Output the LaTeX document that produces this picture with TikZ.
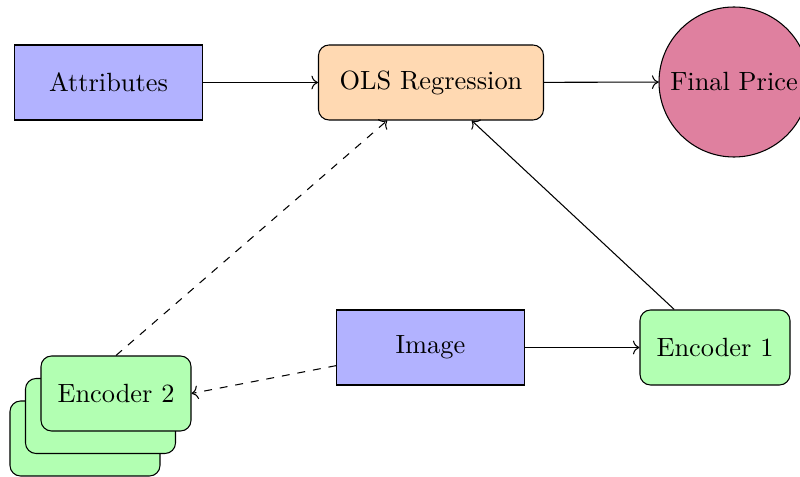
\documentclass[tikz,border=0pt]{standalone}
\usetikzlibrary{arrows.meta}
\begin{document}
\begin{tikzpicture}[x=0.37937pt,y=-0.37937pt,
  inbox/.style={draw,fill=blue!30,minimum width=2.5cm,minimum height=1cm},
  olsbox/.style={draw,fill=orange!30,rounded corners,minimum width=3cm,minimum height=1cm},
  encbox/.style={draw,fill=green!30,rounded corners,minimum width=2cm,minimum height=1cm},
  outcirc/.style={draw,circle,fill=purple!50,minimum size=2cm,inner sep=0pt},
  conn/.style={->},
  dconn/.style={->,dashed}]
\useasboundingbox (0,0) rectangle (800,477);
\node[inbox] (attr) at (108.5,82.5) {Attributes};
\node[olsbox] (ols) at (431,82.5) {OLS Regression};
\node[outcirc] (price) at (734,82) {Final Price};
\node[inbox] (img) at (430.5,347.5) {Image};
\node[encbox] (enc1) at (715,347.5) {Encoder 1};
\node[encbox] (enc2c) at (85,438.5) {};
\node[encbox] (enc2b) at (100.5,416) {};
\node[encbox] (enc2) at (116,393.5) {Encoder 2};
\draw[conn] (attr) -- (ols);
\draw[conn] (ols) -- (price);
\draw[conn] (img) -- (enc1);
\draw[conn] (enc1) -- (ols);
\draw[dconn] (img) -- (enc2.east);
\draw[dconn] (enc2.north) -- (ols);
\end{tikzpicture}
\end{document}
